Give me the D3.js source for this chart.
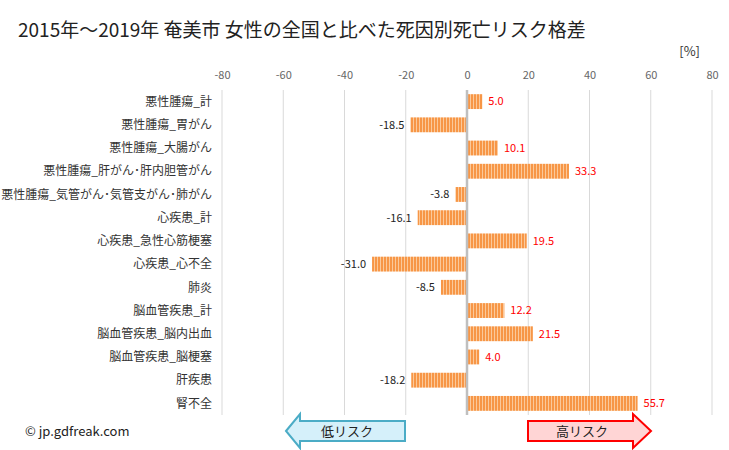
<!DOCTYPE html>
<html><head><meta charset="utf-8">
<script src="https://cdn.jsdelivr.net/npm/d3@7"></script>
<style>body{margin:0;background:#fff;} svg{display:block;font-family:"Noto Sans CJK JP","Noto Sans",sans-serif;}</style>
</head><body>
<script>
const categories = ["悪性腫瘍_計","悪性腫瘍_胃がん","悪性腫瘍_大腸がん","悪性腫瘍_肝がん･肝内胆管がん","悪性腫瘍_気管がん･気管支がん･肺がん","心疾患_計","心疾患_急性心筋梗塞","心疾患_心不全","肺炎","脳血管疾患_計","脳血管疾患_脳内出血","脳血管疾患_脳梗塞","肝疾患","腎不全"];
const values = [5.0,-18.5,10.1,33.3,-3.8,-16.1,19.5,-31.0,-8.5,12.2,21.5,4.0,-18.2,55.7];
const ticks = [-80,-60,-40,-20,0,20,40,60,80];
const title = "2015年～2019年 奄美市 女性の全国と比べた死因別死亡リスク格差";

const W=729,H=450;
const svg=d3.select("body").append("svg").attr("width",W).attr("height",H);
const defs=svg.append("defs");
const pat=defs.append("pattern").attr("id","stripe").attr("patternUnits","userSpaceOnUse").attr("width",3).attr("height",10);
pat.append("rect").attr("width",3).attr("height",10).attr("fill","#f79646");
pat.append("rect").attr("x",2).attr("width",1).attr("height",10).attr("fill","#fbc99a");

const x=d3.scaleLinear().domain([-80,80]).range([222,712]);
const y=d3.scaleBand().domain(categories).range([90,415]).paddingInner(0.36).paddingOuter(0.18);

svg.append("text").attr("x",18).attr("y",37).attr("font-size",19).attr("fill","#222").text(title);
svg.append("text").attr("x",700).attr("y",56).attr("font-size",13).attr("fill","#333").attr("text-anchor","end").text("[%]");

// gridlines
svg.append("g").selectAll("line").data(ticks.filter(t=>t!==0)).join("line")
  .attr("x1",d=>x(d)).attr("x2",d=>x(d)).attr("y1",90).attr("y2",415)
  .attr("stroke","#d9d9d9").attr("stroke-width",1);
// tick labels
const ax=svg.append("g").attr("transform","translate(0,79)").call(d3.axisTop(x).tickValues(ticks).tickSize(0).tickPadding(0).tickFormat(d=>String(d)));
ax.select(".domain").remove();
ax.selectAll("text").attr("font-size",11).attr("fill","#666").attr("font-family","'Noto Sans CJK JP',sans-serif");

// category labels
svg.append("g").selectAll("text").data(categories).join("text")
  .attr("x",212).attr("y",d=>y(d)+y.bandwidth()/2).attr("dy","0.35em")
  .attr("text-anchor","end").attr("font-size",12).attr("fill","#333").text(d=>d);

// bars
svg.append("g").selectAll("rect").data(values).join("rect")
  .attr("x",(d)=>d>=0?x(0)+1:x(d))
  .attr("width",d=>Math.abs(x(d)-x(0))-1)
  .attr("y",(d,i)=>y(categories[i])).attr("height",y.bandwidth())
  .attr("fill","url(#stripe)");

// zero line
svg.append("line").attr("x1",x(0)).attr("x2",x(0)).attr("y1",90).attr("y2",415).attr("stroke","#bfbfbf").attr("stroke-width",2.5);

// value labels
svg.append("g").selectAll("text").data(values).join("text")
  .attr("x",d=>d>=0?x(d)+6:x(d)-6)
  .attr("y",(d,i)=>y(categories[i])+y.bandwidth()/2).attr("dy","0.35em")
  .attr("text-anchor",d=>d>=0?"start":"end")
  .attr("font-size",11).attr("fill",d=>d>=0?"#ff0000":"#222")
  .text(d=>d.toFixed(1));

// arrows
const low=svg.append("g");
low.append("path").attr("d","M286,431 L300,414 L300,421 L405,421 L405,441 L300,441 L300,448 Z")
  .attr("fill","#d5f0fa").attr("stroke","#4bacc6").attr("stroke-width",2);
low.append("text").attr("x",347).attr("y",431).attr("dy","0.35em").attr("text-anchor","middle").attr("font-size",13).attr("fill","#222").text("低リスク");
const high=svg.append("g");
high.append("path").attr("d","M528,421 L633,421 L633,414 L651,431 L633,448 L633,441 L528,441 Z")
  .attr("fill","#ffd5d5").attr("stroke","#ff0000").attr("stroke-width",2);
high.append("text").attr("x",582).attr("y",431).attr("dy","0.35em").attr("text-anchor","middle").attr("font-size",13).attr("fill","#222").text("高リスク");

svg.append("text").attr("x",25).attr("y",436).attr("font-size",13).attr("fill","#222").text("© jp.gdfreak.com");
</script>
</body></html>
